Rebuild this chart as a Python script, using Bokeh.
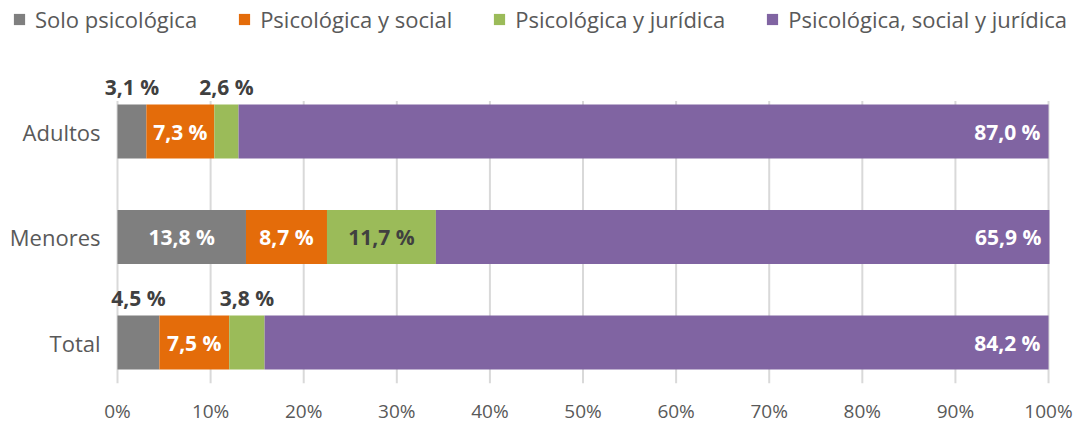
from bokeh.plotting import figure
from bokeh.models import ColumnDataSource, FixedTicker, Legend, LegendItem
from bokeh.core.properties import value
from bokeh.embed import file_html
from bokeh.resources import INLINE

categories = ["Adultos", "Menores", "Total"]
series = ["Solo psicológica", "Psicológica y social", "Psicológica y jurídica", "Psicológica, social y jurídica"]
solo = [3.1, 13.8, 4.5]
social = [7.3, 8.7, 7.5]
juridica = [2.6, 11.7, 3.8]
todas = [87.0, 65.9, 84.2]
colors = ["#7f7f7f", "#e46c0a", "#9bbb59", "#8064a2"]
x_ticks = [0, 10, 20, 30, 40, 50, 60, 70, 80, 90, 100]
x_tick_labels = [f"{t}%" for t in x_ticks]

FONT = "Open Sans"
TEXT = "#595959"
DARK = "#404040"

ypos = {c: len(categories) - 1 - i for i, c in enumerate(categories)}
ys = [ypos[c] for c in categories]
BAR_H = 0.512
X0, X1 = -12.567, 103.22
Y0, Y1 = -0.3886, 3.2417
GRID_Y0, GRID_Y1 = Y0, 2.289

p = figure(frame_width=1078, frame_height=383, x_range=(X0, X1), y_range=(Y0, Y1),
           output_backend="svg", toolbar_location=None)
p.min_border_left = 0
p.min_border_right = 0
p.min_border_top = 0
p.min_border_bottom = 0
p.outline_line_color = None
p.xgrid.visible = False
p.ygrid.visible = False
p.yaxis.visible = False

# gridlines limited vertically
p.segment(x0=x_ticks, x1=x_ticks, y0=[GRID_Y0] * len(x_ticks), y1=[GRID_Y1] * len(x_ticks),
          line_color="#d9d9d9", line_width=2)

vals = [solo, social, juridica, todas]
left = [0.0] * len(categories)
renderers = []
labels_x, labels_y, labels_t, labels_c = [], [], [], []
out_x, out_y, out_t = [], [], []
right_x, right_y, right_t = [], [], []
for si, (name, v, col) in enumerate(zip(series, vals, colors)):
    r = [l + d for l, d in zip(left, v)]
    src = ColumnDataSource(dict(y=ys, left=left, right=r))
    rr = p.hbar(y="y", left="left", right="right", height=BAR_H, source=src,
                fill_color=col, line_color=None)
    renderers.append((name, rr))
    for ci, c in enumerate(categories):
        txt = f"{v[ci]:.1f}".replace(".", ",") + " %"
        if si == 3:
            right_x.append(r[ci]); right_y.append(ys[ci]); right_t.append(txt)
        elif v[ci] < 5:
            out_x.append(left[ci] + v[ci] / 2); out_y.append(ys[ci] + BAR_H / 2 + 0.165); out_t.append(txt)
        else:
            labels_x.append(left[ci] + v[ci] / 2); labels_y.append(ys[ci]); labels_t.append(txt)
            labels_c.append(DARK if si == 2 else "white")
    left = r

common = dict(text_baseline="middle", text_font=value(FONT), text_font_size="21px", text_font_style="bold")
p.text(x="x", y="y", text="t", text_color="c",
       source=ColumnDataSource(dict(x=labels_x, y=labels_y, t=labels_t, c=labels_c)),
       text_align="center", **common)
p.text(x="x", y="y", text="t", source=ColumnDataSource(dict(x=out_x, y=out_y, t=out_t)),
       text_color=DARK, text_align="center", **common)
p.text(x="x", y="y", text="t", source=ColumnDataSource(dict(x=right_x, y=right_y, t=right_t)),
       text_color="white", text_align="right", x_offset=-8, **common)

# category labels (left of the bars)
p.text(x=[0] * len(categories), y=ys, text=categories, text_align="right", x_offset=-17,
       text_baseline="middle", text_font=value(FONT), text_font_size="22px", text_color=TEXT)

# x axis
p.xaxis.ticker = FixedTicker(ticks=x_ticks)
p.xaxis.major_label_overrides = {t: l for t, l in zip(x_ticks, x_tick_labels)}
ax = p.xaxis[0]
ax.axis_line_color = None
ax.major_tick_line_color = None
ax.minor_tick_line_color = None
ax.major_tick_out = 0
ax.minor_tick_out = 0
ax.major_tick_in = 0
ax.minor_tick_in = 0
ax.major_label_text_font = FONT
ax.major_label_text_color = TEXT
ax.major_label_text_font_size = "19px"
ax.major_label_standoff = 14

legend = Legend(items=[LegendItem(label=n, renderers=[r]) for n, r in renderers],
                orientation="horizontal", location=(12, 349),
                glyph_width=14, glyph_height=14, label_standoff=9, spacing=40,
                padding=0, margin=0, border_line_color=None, background_fill_alpha=0,
                label_text_font=FONT, label_text_font_size="22px", label_text_color=TEXT,
                label_height=20)
p.add_layout(legend)

open("out.html", "w").write(file_html(p, INLINE))
